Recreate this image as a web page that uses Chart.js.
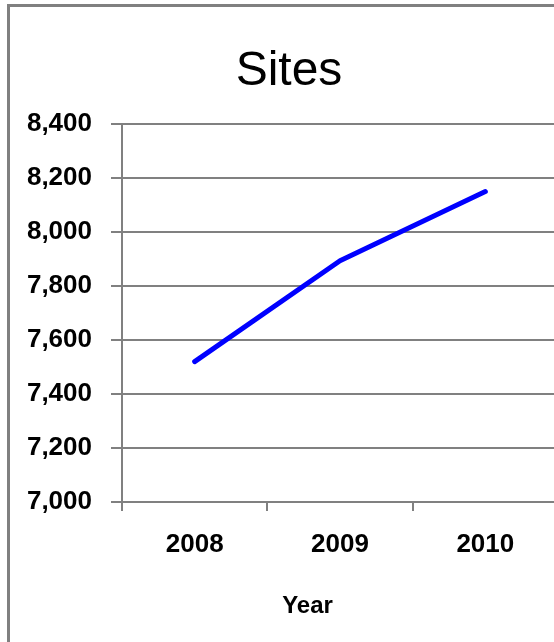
<!DOCTYPE html>
<html>
<head>
<meta charset="utf-8">
<script src="https://cdn.jsdelivr.net/npm/chart.js@4.4.1/dist/chart.umd.min.js"></script>
<style>
    html, body { margin: 0; padding: 0; background: #fff; }
    #wrap { position: relative; width: 554px; height: 642px; overflow: hidden; }
    #box { position: absolute; left: 0; top: 0; width: 570px; height: 642px; }
    #frame {
        position: absolute; left: 7px; top: 4px; width: 700px; height: 800px;
        border-left: 3px solid #808080; border-top: 3px solid #808080;
        pointer-events: none;
    }
</style>
</head>
<body>
<div id="wrap">
    <div id="box"><canvas id="sitesChart"></canvas></div>
    <div id="frame"></div>
</div>
<script>
// Chart data
const years = ["2008", "2009", "2010"];
const sites = [7520, 7894, 8150];
const yMin = 7000;
const yMax = 8400;
const yStep = 200;
const xTitle = "Year";

const gridGray = "#808080";

// Excel puts the axis title left of the plot centre, so draw it by hand
const xTitlePlugin = {
    id: "xTitle",
    afterDraw: function (chart) {
        const c = chart.ctx;
        c.save();
        c.font = "bold 24px 'Liberation Sans', Arial, sans-serif";
        c.fillStyle = "#000";
        c.textAlign = "center";
        c.textBaseline = "middle";
        c.fillText(xTitle, chart.chartArea.left + 185.5, chart.chartArea.bottom + 104);
        c.restore();
    }
};

const ctx = document.getElementById("sitesChart").getContext("2d");
new Chart(ctx, {
    type: "line",
    data: {
        labels: years,
        datasets: [{
            label: "Sites",
            data: sites,
            borderColor: "#0000ff",
            borderWidth: 5,
            borderCapStyle: "round",
            borderJoinStyle: "round",
            pointRadius: 0,
            tension: 0,
            fill: false
        }]
    },
    options: {
        responsive: true,
        maintainAspectRatio: false,
        animation: false,
        layout: { padding: { left: 20, right: 12, top: 43, bottom: 63.8 } },
        plugins: {
            legend: { display: false },
            tooltip: { enabled: false },
            title: {
                display: true,
                text: "Sites",
                color: "#000",
                font: { family: "Liberation Sans, Arial, sans-serif", size: 48, weight: "normal" },
                padding: { top: 0, bottom: 23.5 }
            }
        },
        scales: {
            x: {
                offset: true,
                grid: {
                    offset: true,
                    drawOnChartArea: false,
                    drawTicks: true,
                    tickLength: 9,
                    color: gridGray,
                    lineWidth: 2
                },
                border: { display: true, color: gridGray, width: 2 },
                ticks: {
                    color: "#000",
                    padding: 18,
                    font: { family: "Liberation Sans, Arial, sans-serif", size: 26, weight: "bold" }
                }
            },
            y: {
                min: yMin,
                max: yMax,
                afterFit: function (scale) { scale.width = 102; },
                grid: {
                    color: gridGray,
                    lineWidth: 2,
                    tickLength: 11
                },
                border: { display: true, color: gridGray, width: 2 },
                ticks: {
                    stepSize: yStep,
                    color: "#000",
                    padding: 19,
                    font: { family: "Liberation Sans, Arial, sans-serif", size: 26, weight: "bold" },
                    callback: function (value) { return value.toLocaleString("en-US"); }
                }
            }
        }
    },
    plugins: [xTitlePlugin]
});
</script>
</body>
</html>
